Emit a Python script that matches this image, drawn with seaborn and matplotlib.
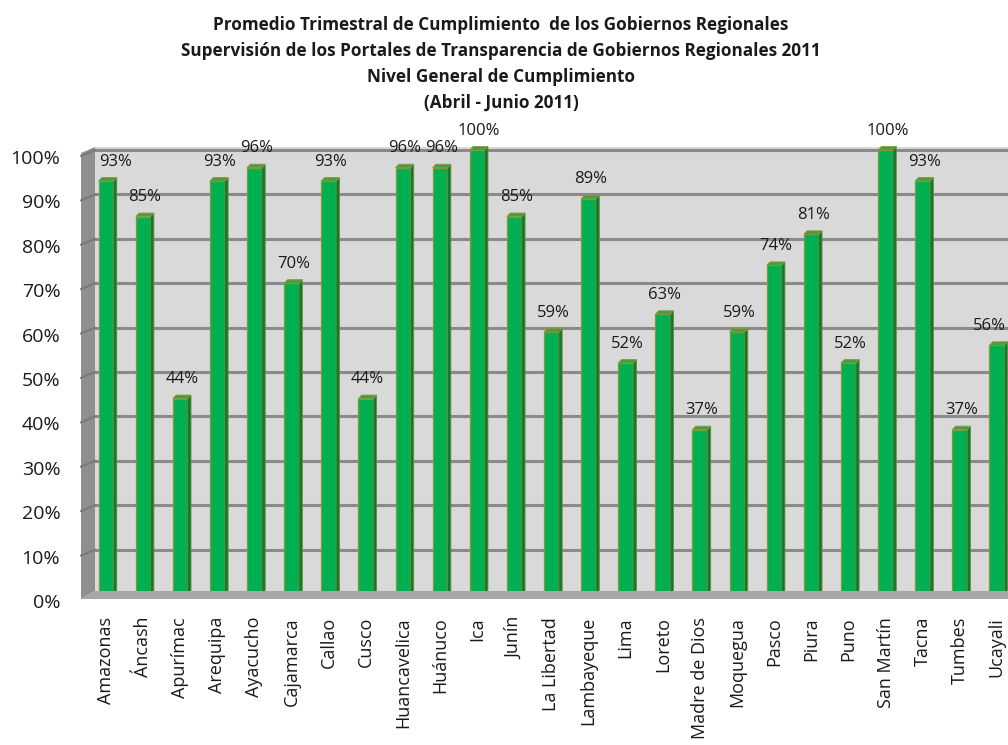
import matplotlib
matplotlib.use("Agg")
import matplotlib.pyplot as plt
import pandas as pd
import seaborn as sns
from matplotlib.lines import Line2D
from matplotlib.patches import Polygon
from matplotlib.transforms import ScaledTranslation

REGIONS = [
    "Amazonas", "Áncash", "Apurímac", "Arequipa", "Ayacucho", "Cajamarca",
    "Callao", "Cusco", "Huancavelica", "Huánuco", "Ica", "Junín",
    "La Libertad", "Lambayeque", "Lima", "Loreto", "Madre de Dios",
    "Moquegua", "Pasco", "Piura", "Puno", "San Martín", "Tacna", "Tumbes",
    "Ucayali",
]
CUMPLIMIENTO = [
    0.93, 0.85, 0.44, 0.93, 0.96, 0.70, 0.93, 0.44, 0.96, 0.96, 1.00, 0.85,
    0.59, 0.89, 0.52, 0.63, 0.37, 0.59, 0.74, 0.81, 0.52, 1.00, 0.93, 0.37,
    0.56,
]
Y_TICKS = [0.0, 0.1, 0.2, 0.3, 0.4, 0.5, 0.6, 0.7, 0.8, 0.9, 1.0]
TITLE_LINES = [
    "Promedio Trimestral de Cumplimiento  de los Gobiernos Regionales",
    "Supervisión de los Portales de Transparencia de Gobiernos Regionales 2011",
    "Nivel General de Cumplimiento",
    "(Abril - Junio 2011)",
]

W, H = 1008, 745

sns.set_theme(style="white")
plt.rcParams["font.family"] = ["Open Sans", "DejaVu Sans"]

df = pd.DataFrame({"region": REGIONS, "valor": CUMPLIMIENTO})

fig = plt.figure(figsize=(W / 100, H / 100), dpi=100)
ax = fig.add_axes([95 / W, (H - 594) / H, 913 / W, 447 / H])
ax.set_facecolor("#d9d9d9")

# paredes 3D (lateral y piso)
side = Polygon([(81 / W, 1 - 153 / H), (95 / W, 1 - 147 / H),
                (95 / W, 1 - 591 / H), (81 / W, 1 - 599 / H)],
               closed=True, transform=fig.transFigure, facecolor="#8f8f8f",
               edgecolor="none", zorder=0)
floor = Polygon([(81 / W, 1 - 599 / H), (95 / W, 1 - 591 / H),
                 (1008 / W, 1 - 591 / H), (1008 / W, 1 - 599 / H)],
                closed=True, transform=fig.transFigure, facecolor="#a6a6a6",
                edgecolor="none", zorder=0)
fig.patches.extend([side, floor])

for t in Y_TICKS[1:]:
    ax.axhline(t, color="#8a8a8a", lw=2.2, zorder=1)
    # linea inclinada sobre la pared lateral
    y_pix = 594 - t * 444
    fig.lines.append(Line2D([81 / W, 95 / W], [1 - (y_pix + 6) / H, 1 - y_pix / H],
                            transform=fig.transFigure, color="#7a7a7a", lw=1.6))

sns.barplot(data=df, x="region", y="valor", color="#00b050", width=0.4,
            saturation=1, edgecolor="#7f9a3c", linewidth=0.9, ax=ax, zorder=3)

dx, dy = 0.09, 0.008
for patch in ax.patches:
    x0, w, h = patch.get_x(), patch.get_width(), patch.get_height()
    ax.add_patch(Polygon([(x0 + w, 0), (x0 + w + dx, dy), (x0 + w + dx, h + dy),
                          (x0 + w, h)], closed=True, facecolor="#0f7a30",
                         edgecolor="#6d8a35", lw=0.6, zorder=3, clip_on=False))
    ax.add_patch(Polygon([(x0, h), (x0 + dx, h + dy), (x0 + w + dx, h + dy),
                          (x0 + w, h)], closed=True, facecolor="#4f9a3a",
                         edgecolor="#7f9a3c", lw=0.6, zorder=3, clip_on=False))

for i, v in enumerate(CUMPLIMIENTO):
    if i == 0:
        xpos = i + 0.25
    elif i == len(CUMPLIMIENTO) - 1:
        xpos = i - 0.2
    else:
        xpos = i + 0.05
    ax.annotate(f"{v:.0%}", (xpos, v), xytext=(0, 14),
                textcoords="offset points", ha="center", va="center",
                fontsize=12, color="#1a1a1a", annotation_clip=False)

ax.set_xlim(-0.296, 24.3)
ax.set_ylim(0, 1.0068)
ax.set_yticks(Y_TICKS)
ax.set_yticklabels([f"{t:.0%}" for t in Y_TICKS])
ax.set_xlabel("")
ax.set_ylabel("")
ax.tick_params(axis="y", length=0, pad=25, labelsize=14, labelcolor="#1a1a1a")
ax.tick_params(axis="x", length=0, pad=16.5, labelsize=13, labelcolor="#1a1a1a",
               labelrotation=90)
for lab in ax.get_yticklabels():
    lab.set_transform(lab.get_transform() + ScaledTranslation(0, -7 / 100, fig.dpi_scale_trans))
for s in ax.spines.values():
    s.set_visible(False)

for k, line in enumerate(TITLE_LINES):
    fig.text(501 / W, 1 - (25 + 26 * k) / H, line, ha="center", va="center",
             fontsize=12.3, fontweight="bold", color="#1a1a1a")

fig.savefig("out.png", dpi=100)
